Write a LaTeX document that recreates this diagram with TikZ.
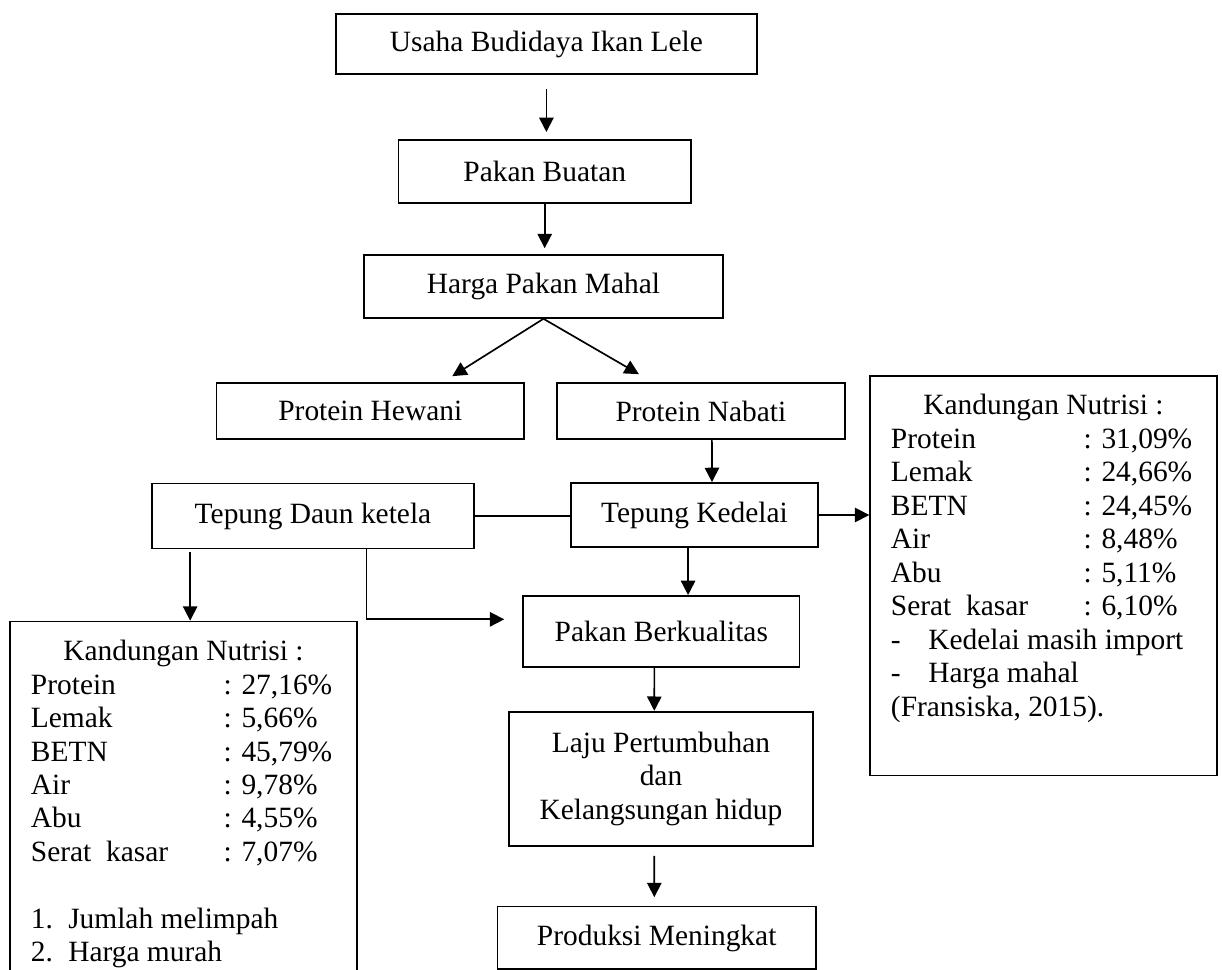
\documentclass[tikz,border=0pt]{standalone}
\usepackage{fontspec}
\setmainfont{Liberation Serif}
\usetikzlibrary{arrows.meta,calc}

\begin{document}
\begin{tikzpicture}[x=0.418pt,y=-0.418pt,line width=0.7pt,
  box/.style={draw,inner sep=0pt,align=center,font=\fontsize{12.3pt}{14pt}\selectfont},
  nutbox/.style={draw,anchor=north west,inner xsep=8.7pt,inner ysep=6.5pt,font=\fontsize{12.3pt}{14pt}\selectfont},
  arr/.style={-{Triangle[length=6pt,width=6pt]}}]
\useasboundingbox (0,0) rectangle (1222,970);
\clip (0,0) rectangle (1222,970);
% main column
\node[box,minimum width=176.1pt,minimum height=25.1pt] (usaha) at (546.4,44) {Usaha Budidaya Ikan Lele};
\node[box,minimum width=122.3pt,minimum height=26.3pt] (buatan) at (544.7,171.5) {Pakan Buatan};
\node[box,minimum width=150.1pt,minimum height=26.3pt] (mahal) at (543.5,286.5) {Harga Pakan Mahal};
\node[box,minimum width=128.5pt,minimum height=23.4pt] (hewani) at (370.3,411) {Protein Hewani};
\node[box,minimum width=120.4pt,minimum height=23.4pt] (nabati) at (700.9,411) {Protein Nabati};
\node[box,minimum width=134.6pt,minimum height=27.2pt] (daun) at (313,516) {Tepung Daun ketela};
\node[box,minimum width=103.2pt,minimum height=26.8pt] (kedelai) at (694.5,515) {Tepung Kedelai};
\node[box,minimum width=115.4pt,minimum height=29.6pt] (berkualitas) at (661.3,631.3) {Pakan Berkualitas};
\node[box,minimum width=126.8pt,minimum height=56.1pt] (laju) at (661,778.8) {Laju Pertumbuhan\\dan\\Kelangsungan hidup};
\node[box,minimum width=133.2pt,minimum height=26.2pt] (produksi) at (656.7,938) {Produksi Meningkat};
% nutrisi
\node[nutbox] (nutkedelai) at (869.3,375) {%
\begin{tabular}{@{}p{80.5pt}@{}p{47pt}@{}}
\multicolumn{2}{@{}c@{}}{Kandungan Nutrisi :}\\
Protein & : 31,09\%\\
Lemak & : 24,66\%\\
BETN & : 24,45\%\\
Air & : 8,48\%\\
Abu & : 5,11\%\\
Serat~ kasar & : 6,10\%\\
\multicolumn{2}{@{}l@{}}{\makebox[15.6pt][l]{-}Kedelai masih import}\\
\multicolumn{2}{@{}l@{}}{\makebox[15.6pt][l]{-}Harga mahal}\\
\multicolumn{2}{@{}l@{}}{(Fransiska, 2015).}\\
\\
\end{tabular}};
\node[nutbox] (nutdaun) at (9.3,620.7) {%
\begin{tabular}{@{}p{80.5pt}@{}p{47pt}@{}}
\multicolumn{2}{@{}c@{}}{Kandungan Nutrisi :}\\
Protein & : 27,16\%\\
Lemak & : 5,66\%\\
BETN & : 45,79\%\\
Air & : 9,78\%\\
Abu & : 4,55\%\\
Serat~ kasar & : 7,07\%\\
\\
\multicolumn{2}{@{}l@{}}{\makebox[15.6pt][l]{1.}Jumlah melimpah}\\
\multicolumn{2}{@{}l@{}}{\makebox[15.6pt][l]{2.}Harga murah}\\
\\
\end{tabular}};
% arrows
\draw[arr] ([yshift=-5.9pt]usaha.south) -- ([yshift=3pt]usaha.south |- buatan.north);
\draw[arr] (buatan.south) -- ([yshift=2.5pt]buatan.south |- mahal.north);
\draw[arr] (mahal.south) -- ($(hewani.north)+(82,-6)$);
\draw[arr] (mahal.south) -- ($(nabati.north)+(-62,-8)$);
\draw[arr] ([xshift=4.6pt]nabati.south) -- ([xshift=7.3pt]kedelai.north);
\draw (daun.east) -- (daun.east -| kedelai.west);
\draw[arr] (kedelai.east) -- (kedelai.east -| nutkedelai.west);
\draw[arr] ([xshift=-2.7pt]kedelai.south) -- ([xshift=11.2pt]berkualitas.north);
\draw[arr] ([xshift=2.8pt,yshift=-1.3pt]nutdaun.north |- daun.south) -- ([xshift=2.8pt]nutdaun.north);
\draw[arr] ([xshift=22.4pt]daun.south) |- ([xshift=-7.6pt,yshift=5pt]berkualitas.west);
\draw[arr] ([xshift=-2.9pt]berkualitas.south) -- ([xshift=-2.8pt]laju.north);
\draw[arr] ([xshift=-2.8pt,yshift=-3.8pt]laju.south) -- ([xshift=-1pt,yshift=3.6pt]produksi.north);
\end{tikzpicture}
\end{document}
